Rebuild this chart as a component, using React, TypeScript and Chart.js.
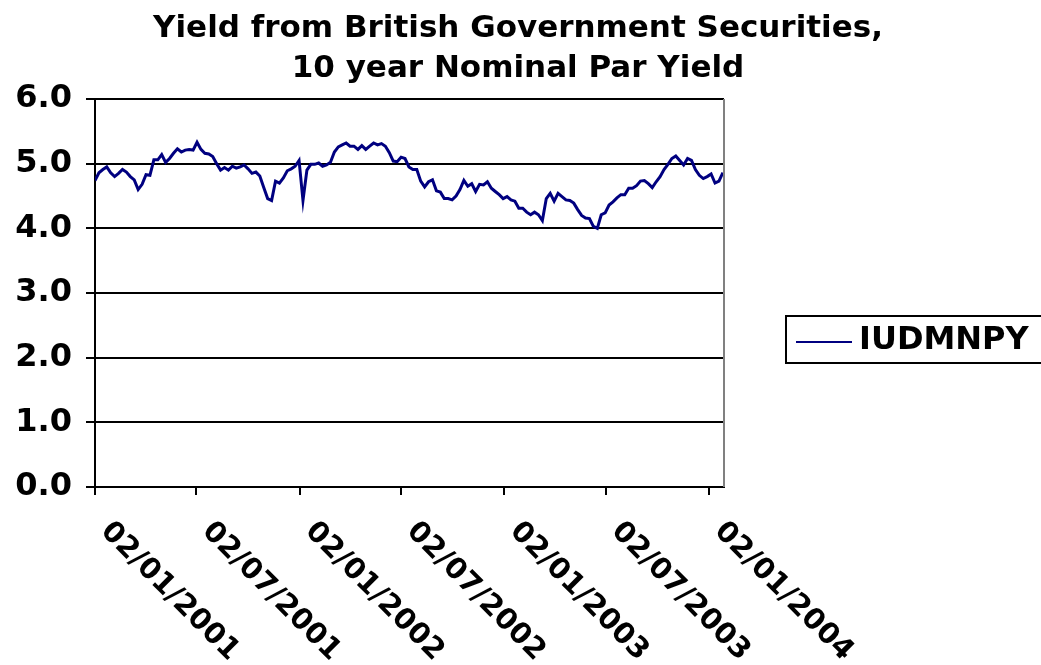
import { useEffect, useRef } from "react";
import { Chart, registerables } from "chart.js";

Chart.register(...registerables);

const titleLines = ["Yield from British Government Securities,", "10 year Nominal Par Yield"];
const seriesName = "IUDMNPY";
const startDate = "2001-01-02";
const weekStepDays = 7;
const xAxisEndDays = 1122;
const tickDates = ["2001-01-02", "2001-07-02", "2002-01-02", "2002-07-02", "2003-01-02", "2003-07-02", "2004-01-02"];
const tickLabels = ["02/01/2001", "02/07/2001", "02/01/2002", "02/07/2002", "02/01/2003", "02/07/2003", "02/01/2004"];
const yMin = 0;
const yMax = 6;
const yStep = 1;

// Weekly readings of the 10-year nominal par yield (%), starting 02/01/2001
const weeklyYield = [
  4.74, 4.86, 4.91, 4.95, 4.86, 4.80, 4.85, 4.91, 4.87, 4.80,
  4.75, 4.60, 4.68, 4.83, 4.82, 5.06, 5.06, 5.14, 5.02, 5.08,
  5.16, 5.23, 5.18, 5.21, 5.22, 5.21, 5.33, 5.22, 5.16, 5.15,
  5.11, 5.00, 4.90, 4.94, 4.90, 4.96, 4.93, 4.95, 4.98, 4.92,
  4.85, 4.87, 4.81, 4.63, 4.46, 4.43, 4.73, 4.70, 4.78, 4.89,
  4.92, 4.96, 5.05, 4.43, 4.90, 4.99, 4.99, 5.01, 4.96, 4.98,
  5.02, 5.18, 5.26, 5.29, 5.32, 5.27, 5.27, 5.22, 5.28, 5.22,
  5.27, 5.32, 5.29, 5.31, 5.27, 5.17, 5.04, 5.03, 5.10, 5.08,
  4.95, 4.91, 4.91, 4.73, 4.64, 4.72, 4.75, 4.58, 4.56, 4.46,
  4.46, 4.44, 4.50, 4.60, 4.74, 4.65, 4.69, 4.57, 4.68, 4.67,
  4.72, 4.62, 4.57, 4.52, 4.46, 4.49, 4.44, 4.42, 4.31, 4.31,
  4.25, 4.21, 4.25, 4.21, 4.12, 4.46, 4.54, 4.42, 4.54, 4.49,
  4.44, 4.43, 4.39, 4.29, 4.20, 4.16, 4.15, 4.03, 4.00, 4.21,
  4.24, 4.36, 4.41, 4.47, 4.52, 4.52, 4.62, 4.62, 4.66, 4.73,
  4.74, 4.69, 4.63, 4.72, 4.80, 4.91, 4.99, 5.08, 5.12, 5.05,
  4.98, 5.08, 5.05, 4.91, 4.82, 4.77, 4.80, 4.84, 4.70, 4.73,
  4.86,
];

const FONT = "'DejaVu Sans', Verdana, sans-serif";
const LINE_COLOR = "#000080";

const dayOffset = (d: string) => Math.round((Date.parse(d) - Date.parse(startDate)) / 86400000);

export default function App() {
  const canvasRef = useRef<HTMLCanvasElement | null>(null);

  useEffect(() => {
    if (!canvasRef.current) return;
    const tickDays = tickDates.map(dayOffset);
    const points = weeklyYield.map((v, i) => ({ x: i * weekStepDays, y: v }));

    const decorations = {
      id: "decorations",
      afterDraw(chart: any) {
        const ctx = chart.ctx as CanvasRenderingContext2D;
        const area = chart.chartArea;
        const xs = chart.scales.x;
        ctx.save();
        // plot area right border
        ctx.strokeStyle = "#808080";
        ctx.lineWidth = 2;
        ctx.beginPath();
        ctx.moveTo(area.right, area.top);
        ctx.lineTo(area.right, area.bottom);
        ctx.stroke();

        // title
        ctx.fillStyle = "#000";
        ctx.font = `bold 31px ${FONT}`;
        ctx.textAlign = "center";
        ctx.textBaseline = "middle";
        titleLines.forEach((t, i) => ctx.fillText(t, 518, 29 + i * 40));

        // rotated x labels
        ctx.font = `bold 29px ${FONT}`;
        ctx.textAlign = "left";
        ctx.textBaseline = "middle";
        tickDays.forEach((d, i) => {
          const px = xs.getPixelForValue(d);
          ctx.save();
          ctx.translate(px + 10, area.bottom + 40);
          ctx.rotate(Math.PI / 4);
          ctx.fillText(tickLabels[i], 0, 0);
          ctx.restore();
        });

        // legend
        ctx.strokeStyle = "#000";
        ctx.lineWidth = 2;
        ctx.strokeRect(786, 316, 260, 47);
        ctx.strokeStyle = LINE_COLOR;
        ctx.lineWidth = 2;
        ctx.beginPath();
        ctx.moveTo(796, 342);
        ctx.lineTo(852, 342);
        ctx.stroke();
        ctx.fillStyle = "#000";
        ctx.font = `bold 32px ${FONT}`;
        ctx.textAlign = "left";
        ctx.textBaseline = "middle";
        ctx.fillText(seriesName, 859, 341);
        ctx.restore();
      },
    };

    const chart = new Chart(canvasRef.current, {
      type: "line",
      data: {
        datasets: [
          {
            label: seriesName,
            data: points,
            borderColor: LINE_COLOR,
            borderWidth: 3,
            pointRadius: 0,
            tension: 0,
            fill: false,
          },
        ],
      },
      options: {
        responsive: false,
        animation: false,
        layout: { padding: { top: 99, right: 317, bottom: 0, left: 0 } },
        plugins: { legend: { display: false }, title: { display: false }, tooltip: { enabled: false } },
        scales: {
          x: {
            type: "linear",
            min: 0,
            max: xAxisEndDays,
            afterBuildTicks: (scale: any) => {
              scale.ticks = tickDays.map((v) => ({ value: v }));
            },
            afterFit: (scale: any) => {
              scale.height = 178;
            },
            ticks: { display: false },
            grid: {
              drawOnChartArea: false,
              drawTicks: true,
              tickLength: 8,
              color: "#000",
              lineWidth: 2,
            },
            border: { display: true, color: "#000", width: 2 },
          },
          y: {
            min: yMin,
            max: yMax,
            afterFit: (scale: any) => {
              scale.width = 95;
            },
            ticks: {
              stepSize: yStep,
              padding: 14,
              color: "#000",
              font: { family: FONT, size: 32, weight: "bold" },
              callback: (v: any) => Number(v).toFixed(1),
            },
            grid: { color: "#000", lineWidth: 2, tickLength: 9 },
            border: { display: true, color: "#000", width: 2 },
          },
        },
      },
      plugins: [decorations],
    } as any);

    return () => chart.destroy();
  }, []);

  return (
    <div style={{ position: "absolute", left: 0, top: 0, width: 1041, height: 665, background: "#fff" }}>
      <canvas ref={canvasRef} width={1041} height={665} style={{ display: "block" }} />
    </div>
  );
}
